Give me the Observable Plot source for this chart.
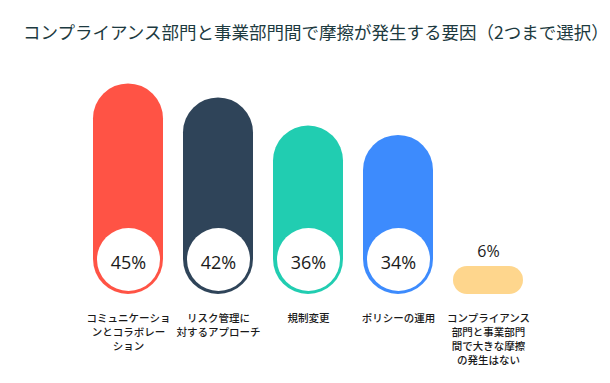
<!DOCTYPE html>
<html>
<head>
<meta charset="utf-8">
<script src="https://cdn.jsdelivr.net/npm/d3@7"></script>
<script src="https://cdn.jsdelivr.net/npm/@observablehq/plot@0.6"></script>
<style>
  html, body { margin: 0; padding: 0; background: #fff; }
  #title {
    height: 60px; box-sizing: border-box; padding-left: 23px; padding-top: 22px;
    font-family: "Noto Sans CJK JP", sans-serif; font-size: 17.5px; font-weight: 400;
    color: #1d3a40; line-height: 20px; white-space: nowrap;
  }
  #chart svg { display: block; }
  g[aria-label="category-labels"] text { letter-spacing: -1.3px; }
</style>
</head>
<body>
<div id="title">コンプライアンス部門と事業部門間で摩擦が発生する要因（2つまで選択）</div>
<div id="chart"></div>
<script>
const categories = ["comm", "risk", "reg", "policy", "none"];
const values = [45, 42, 36, 34, 6];
const tickLabels = [
  "コミュニケーショ\nンとコラボレー\nション",
  "リスク管理に\n対するアプローチ",
  "規制変更",
  "ポリシーの運用",
  "コンプライアンス\n部門と事業部門\n間で大きな摩擦\nの発生はない"
];
const colors = ["#FF5345", "#2F4459", "#21CDB1", "#3D8BFD", "#FED68D"];

const data = categories.map((c, i) => ({cat: c, value: values[i], label: tickLabels[i], color: colors[i]}));
const big = data.filter(d => d.value >= 10);
const small = data.filter(d => d.value < 10);

const plot = Plot.plot({
  width: 610,
  height: 323,
  marginTop: 0, marginBottom: 89, marginLeft: 0, marginRight: 0,
  x: {domain: categories, range: [83.5, 533.5], paddingInner: 0.222, paddingOuter: 0.111, axis: null},
  y: {domain: [0, 50], axis: null},
  style: {fontFamily: "'Open Sans', sans-serif", background: "#fff"},
  marks: [
    Plot.barY(big, {x: "cat", y: "value", fill: "color", rx: 35}),
    Plot.barY(small, {x: "cat", y: "value", fill: "color", rx: 14}),
    Plot.dot(big, {x: "cat", y: 0, dy: -35, r: 31.5, fill: "#fff", stroke: null}),
    Plot.text(big, {x: "cat", y: 0, dy: -31, text: d => d.value + "%", fill: "#1a1a1a", fontSize: 18, lineAnchor: "middle"}),
    Plot.text(small, {x: "cat", y: "value", dy: -15, text: d => d.value + "%", fill: "#1a1a1a", fontSize: 16, lineAnchor: "middle"}),
    Plot.text(data, {x: "cat", y: 0, dy: 17.5, text: "label", lineAnchor: "top", fontSize: 10.5, fontWeight: 500, lineHeight: 1.33, fill: "#1a1a1a", fontFamily: "'Noto Sans CJK JP', sans-serif", ariaLabel: "category-labels"})
  ]
});
document.getElementById("chart").appendChild(plot);
</script>
</body>
</html>
